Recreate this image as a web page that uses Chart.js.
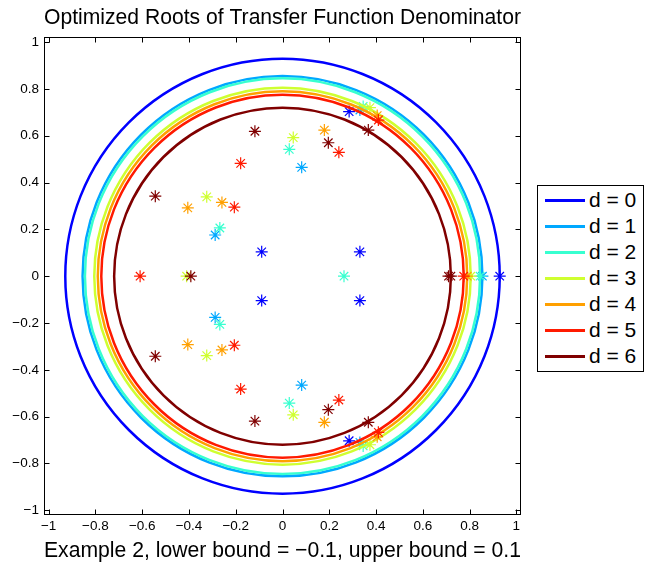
<!DOCTYPE html>
<html>
<head>
<meta charset="utf-8">
<script src="https://cdn.jsdelivr.net/npm/chart.js@4/dist/chart.umd.min.js"></script>
<style>
html, body { margin: 0; padding: 0; background: #fff; }
#wrap { position: relative; width: 654px; height: 564px; }
#legend {
    position: absolute; left: 537px; top: 185px; width: 105px; height: 185px;
    border: 1px solid #000; background: #fff;
    font-family: "Liberation Sans", Arial, sans-serif; font-size: 21px; color: #000;
}
.item { position: absolute; left: 0; width: 105px; height: 26px; }
.item .ln { position: absolute; left: 7px; top: 12px; width: 40px; height: 2.5px; }
.item .tx { position: absolute; left: 51px; top: 0; line-height: 26px; white-space: nowrap; }
</style>
</head>
<body>
<div id="wrap">
    <canvas id="chart" width="654" height="564"></canvas>
    <div id="legend"></div>
</div>
<script>
// --- DATA ---
const labels = ['d = 0', 'd = 1', 'd = 2', 'd = 3', 'd = 4', 'd = 5', 'd = 6'];
const colors = ['#0000ff', '#00a8ff', '#38ffd0', '#cfff30', '#ffa000', '#ff1a00', '#800000'];
// radius of each circle (largest root modulus)
const radii = [0.929, 0.855, 0.845, 0.805, 0.79, 0.775, 0.72];

// roots [re, im] per d
const roots0 = [[0.929, 0], [-0.089, 0.104], [-0.089, -0.104], [0.331, 0.104], [0.331, -0.104], [0.285, 0.703], [0.285, -0.703]];
const roots1 = [[0.855, 0], [0.331, 0.71], [0.331, -0.71], [0.082, 0.465], [0.082, -0.465], [-0.288, 0.176], [-0.288, -0.176]];
const roots2 = [[0.845, 0], [0.263, 0], [0.345, 0.725], [0.345, -0.725], [0.029, 0.542], [0.029, -0.542], [-0.268, 0.206], [-0.268, -0.206]];
const roots3 = [[0.805, 0], [-0.41, 0], [0.374, 0.72], [0.374, -0.72], [0.046, 0.592], [0.046, -0.592], [-0.324, 0.339], [-0.324, -0.339]];
const roots4 = [[0.79, 0], [0.405, 0.686], [0.405, -0.686], [0.179, 0.624], [0.179, -0.624], [-0.259, 0.315], [-0.259, -0.315], [-0.405, 0.292], [-0.405, -0.292]];
const roots5 = [[0.775, 0], [-0.609, 0], [0.41, 0.667], [0.41, -0.667], [0.241, 0.529], [0.241, -0.529], [-0.179, 0.482], [-0.179, -0.482], [-0.206, 0.295], [-0.206, -0.295]];
const roots6 = [[0.72, 0], [0.71, 0], [-0.392, 0], [0.367, 0.624], [0.367, -0.624], [0.196, 0.57], [0.196, -0.57], [-0.118, 0.619], [-0.118, -0.619], [-0.544, 0.342], [-0.544, -0.342]];
const allRoots = [roots0, roots1, roots2, roots3, roots4, roots5, roots6];

const tickValues = [-1, -0.8, -0.6, -0.4, -0.2, 0, 0.2, 0.4, 0.6, 0.8, 1];
const tickLabels = ['\u22121', '\u22120.8', '\u22120.6', '\u22120.4', '\u22120.2', '0', '0.2', '0.4', '0.6', '0.8', '1'];

const titleText = 'Optimized Roots of Transfer Function Denominator';
const xTitleText = 'Example 2, lower bound = \u22120.1, upper bound = 0.1';

const FONT = '"Liberation Sans", Arial, sans-serif';

// --- PLUGINS ---
// circle for each d, drawn just before its stars
const circlesPlugin = {
    id: 'circles',
    beforeDatasetDraw(chart, args) {
        const i = args.index;
        const {ctx, chartArea: a, scales: {x, y}} = chart;
        const cx = x.getPixelForValue(0), cy = y.getPixelForValue(0);
        const rx = x.getPixelForValue(radii[i]) - cx;
        const ry = cy - y.getPixelForValue(radii[i]);
        ctx.save();
        ctx.beginPath();
        ctx.rect(a.left, a.top, a.right - a.left, a.bottom - a.top);
        ctx.clip();
        ctx.beginPath();
        ctx.ellipse(cx, cy, rx, ry, 0, 0, Math.PI * 2);
        ctx.strokeStyle = colors[i];
        ctx.lineWidth = 2.5;
        ctx.stroke();
        ctx.restore();
    }
};

// box around axes and inward ticks on all four sides
const boxPlugin = {
    id: 'box',
    afterDatasetsDraw(chart) {
        const {ctx, chartArea: a, scales: {x, y}} = chart;
        const L = Math.round(a.left) + 0.5, R = Math.round(a.right) - 0.5;
        const T = Math.round(a.top) + 0.5, B = Math.round(a.bottom) - 0.5;
        const tl = 5;
        ctx.save();
        ctx.strokeStyle = '#000';
        ctx.lineWidth = 1;
        ctx.beginPath();
        tickValues.forEach(v => {
            const px = Math.round(x.getPixelForValue(v)) + 0.5;
            ctx.moveTo(px, B); ctx.lineTo(px, B - tl);
            ctx.moveTo(px, T); ctx.lineTo(px, T + tl);
            const py = Math.round(y.getPixelForValue(v)) + 0.5;
            ctx.moveTo(L, py); ctx.lineTo(L + tl, py);
            ctx.moveTo(R, py); ctx.lineTo(R - tl, py);
        });
        ctx.stroke();
        ctx.strokeRect(L, T, R - L, B - T);
        ctx.restore();
    }
};

// --- CHART ---
const datasets = allRoots.map((r, i) => ({
    label: labels[i],
    data: r.map(p => ({x: p[0], y: p[1]})),
    borderColor: colors[i],
    backgroundColor: colors[i],
    pointStyle: 'star',
    pointRadius: 6,
    pointBorderWidth: 1.2,
    showLine: false,
    order: labels.length - i
}));

const setTicks = scale => { scale.ticks = tickValues.map(v => ({value: v})); };

new Chart(document.getElementById('chart'), {
    type: 'scatter',
    data: {datasets},
    options: {
        responsive: false,
        animation: false,
        devicePixelRatio: 1,
        layout: {padding: {left: 0, right: 133, top: 0, bottom: 0}},
        plugins: {
            legend: {display: false},
            tooltip: {enabled: false},
            title: {
                display: true,
                text: titleText,
                fullSize: false,
                color: '#000',
                font: {family: FONT, size: 22, weight: 'normal'},
                padding: {top: 5, bottom: 6}
            }
        },
        scales: {
            x: {
                type: 'linear', position: 'bottom', min: -1.02, max: 1.02,
                afterBuildTicks: setTicks,
                afterFit: s => { s.height = 49; },
                grid: {display: false, drawTicks: false},
                border: {display: false},
                ticks: {
                    color: '#000', padding: 3, maxRotation: 0, autoSkip: false,
                    font: {family: FONT, size: 13.5},
                    callback: (v, i) => tickLabels[i]
                },
                title: {
                    display: true, text: xTitleText, color: '#000',
                    font: {family: FONT, size: 22},
                    padding: {top: 3, bottom: 0}
                }
            },
            y: {
                type: 'linear', position: 'left', min: -1.02, max: 1.02,
                afterBuildTicks: setTicks,
                afterFit: s => { s.width = 44; },
                grid: {display: false, drawTicks: false},
                border: {display: false},
                ticks: {
                    color: '#000', padding: 5, autoSkip: false,
                    font: {family: FONT, size: 13.5},
                    callback: (v, i) => tickLabels[i]
                }
            }
        }
    },
    plugins: [circlesPlugin, boxPlugin]
});

// --- LEGEND ---
const legend = document.getElementById('legend');
labels.forEach((lab, i) => {
    const item = document.createElement('div');
    item.className = 'item';
    item.style.top = (1.3 + 26 * i) + 'px';
    item.innerHTML = '<div class="ln" style="background:' + colors[i] + '"></div><div class="tx">' + lab + '</div>';
    legend.appendChild(item);
});
</script>
</body>
</html>
